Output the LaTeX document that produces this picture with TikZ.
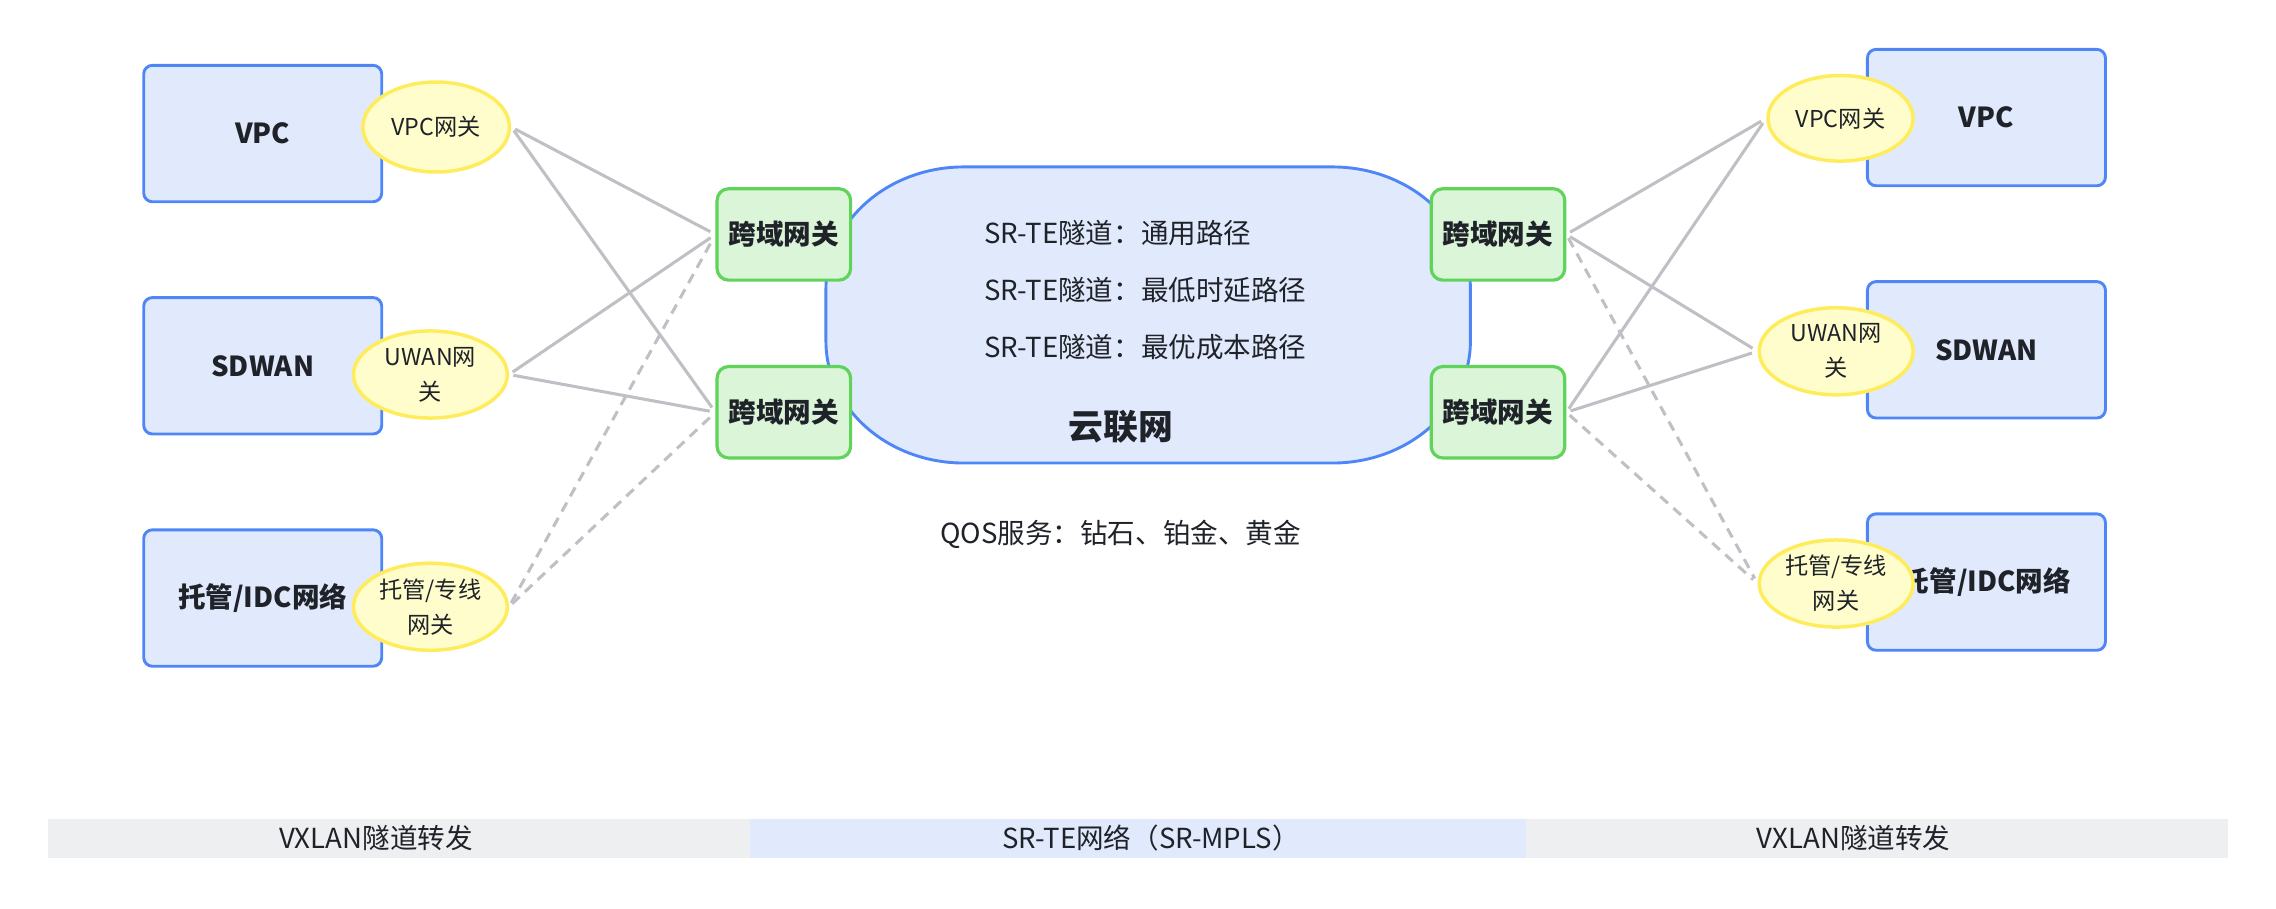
\documentclass[tikz,border=0pt]{standalone}
\usepackage{fontspec}
\setmainfont{Noto Sans CJK SC}
\usetikzlibrary{shapes.geometric}
\definecolor{boxblue}{HTML}{4F86F7}
\definecolor{boxfill}{HTML}{E1EAFD}
\definecolor{gwyellow}{HTML}{FFEC5C}
\definecolor{gwfill}{HTML}{FFFDCC}
\definecolor{gwgreen}{HTML}{5FD35A}
\definecolor{gwgreenfill}{HTML}{DAF5D8}
\definecolor{linegrey}{HTML}{BFC0C5}
\definecolor{bargrey}{HTML}{EEEFF1}
\definecolor{textdark}{HTML}{1F2329}

\begin{document}
\begin{tikzpicture}[x=1pt,y=1pt,text=textdark]
  \tikzstyle{netbox}=[rectangle, rounded corners=6pt, draw=boxblue, fill=boxfill, line width=2pt,
    minimum width=164pt, minimum height=94pt, font=\fontsize{19}{23}\selectfont\bfseries]
  \tikzstyle{gwell}=[ellipse, draw=gwyellow, fill=gwfill, line width=2.4pt, minimum width=106pt,
    minimum height=60pt, inner sep=0pt, align=center, font=\fontsize{16}{24}\selectfont]
  \tikzstyle{crossgw}=[rectangle, rounded corners=8pt, draw=gwgreen, fill=gwgreenfill, line width=2.2pt,
    minimum width=92pt, minimum height=63pt, font=\fontsize{19}{23}\selectfont\bfseries]
  \tikzstyle{link}=[draw=linegrey, line width=2.1pt, shorten <=3pt, shorten >=4pt]
  \tikzstyle{backup}=[link, dash pattern=on 7pt off 5pt]
  \tikzstyle{plain}=[inner sep=0pt, font=\fontsize{19}{23}\selectfont]
  \useasboundingbox (0,0) rectangle (1568,-626);

  % bottom bar
  \fill[bargrey] (33,-564) rectangle (517,-591);
  \fill[boxfill] (517,-564) rectangle (1051,-591);
  \fill[bargrey] (1051,-564) rectangle (1535,-591);
  \node[plain] (BAR_1) at (259,-577.5) {VXLAN隧道转发};
  \node[plain] (BAR_2) at (793,-577.5) {SR-TE网络（SR-MPLS）};
  \node[plain] (BAR_3) at (1277,-577.5) {VXLAN隧道转发};

  % cloud
  \draw[boxblue, fill=boxfill, line width=2pt] (664,-115) -- (918,-115)
    arc[start angle=90, end angle=0, x radius=95, y radius=84] -- (1013,-235)
    arc[start angle=0, end angle=-90, x radius=95, y radius=84] -- (664,-319)
    arc[start angle=270, end angle=180, x radius=95, y radius=84] -- (569,-199)
    arc[start angle=180, end angle=90, x radius=95, y radius=84] -- cycle;
  \node[plain, anchor=west] (T_1) at (678,-160.6) {SR-TE隧道：通用路径};
  \node[plain, anchor=west] (T_2) at (678,-199.8) {SR-TE隧道：最低时延路径};
  \node[plain, anchor=west] (T_3) at (678,-238.8) {SR-TE隧道：最优成本路径};
  \node[plain, font=\fontsize{24}{28}\selectfont\bfseries] (CLOUD) at (772,-294) {云联网};
  \node[plain] (QOS) at (772,-368) {QOS服务：钻石、铂金、黄金};

  % networks
  \node[netbox] (LB_1) at (181,-92) {VPC};
  \node[netbox] (LB_2) at (181,-252) {SDWAN};
  \node[netbox] (LB_3) at (181,-412) {托管/IDC网络};
  \node[netbox] (RB_1) at (1368.5,-81) {VPC};
  \node[netbox] (RB_2) at (1368.5,-241) {SDWAN};
  \node[netbox] (RB_3) at (1368.5,-401) {托管/IDC网络};

  % access gateways
  \node[gwell, minimum width=101pt, minimum height=62pt] (LE_1) at (300.5,-87.5) {VPC网关};
  \node[gwell] (LE_2) at (296.5,-258) {UWAN网\\关};
  \node[gwell] (LE_3) at (296.5,-418) {托管/专线\\网关};
  \node[gwell, minimum width=100pt, minimum height=59pt] (RE_1) at (1268,-81.5) {VPC网关};
  \node[gwell] (RE_2) at (1265,-242) {UWAN网\\关};
  \node[gwell] (RE_3) at (1265,-402) {托管/专线\\网关};

  % cross-domain gateways
  \node[crossgw] (GW_1) at (540,-161.5) {跨域网关};
  \node[crossgw] (GW_2) at (540,-284) {跨域网关};
  \node[crossgw] (GW_3) at (1032,-161.5) {跨域网关};
  \node[crossgw] (GW_4) at (1032,-284) {跨域网关};

  \draw[link] (LE_1.east) -- (GW_1.west);
  \draw[link] (LE_1.east) -- (GW_2.west);
  \draw[link] (LE_2.east) -- (GW_1.west);
  \draw[link] (LE_2.east) -- (GW_2.west);
  \draw[backup] (LE_3.east) -- (GW_1.west);
  \draw[backup] (LE_3.east) -- (GW_2.west);
  \draw[link] (GW_3.east) -- (RE_1.west);
  \draw[link] (GW_3.east) -- (RE_2.west);
  \draw[link] (GW_4.east) -- (RE_1.west);
  \draw[link] (GW_4.east) -- (RE_2.west);
  \draw[backup] (GW_3.east) -- (RE_3.west);
  \draw[backup] (GW_4.east) -- (RE_3.west);
\end{tikzpicture}
\end{document}
